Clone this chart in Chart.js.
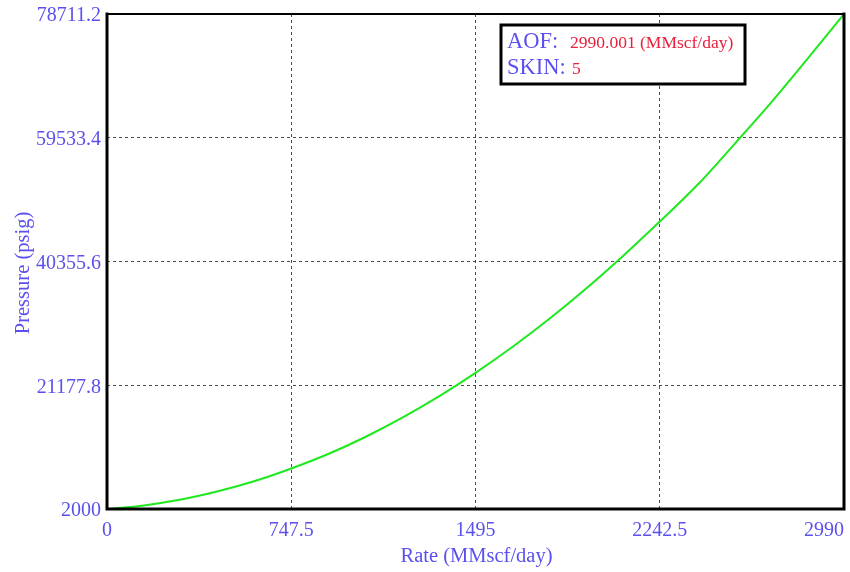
<!DOCTYPE html>
<html>
<head>
<meta charset="utf-8">
<script src="https://cdn.jsdelivr.net/npm/chart.js@4/dist/chart.umd.min.js"></script>
<style>
  html, body { margin: 0; padding: 0; background: #ffffff; }
  #wrap { width: 850px; height: 572px; }
</style>
</head>
<body>
<div id="wrap"><canvas id="ipr"></canvas></div>
<script>
// Deliverability curve: flowing pressure vs gas rate
const rates = [0, 150, 300, 450, 600, 747.5, 900, 1050, 1200, 1350, 1495, 1650, 1800, 1950, 2100, 2242.5, 2400, 2550, 2700, 2850, 2990];
const pressures = [2000, 2560, 3460, 4740, 6340, 8280, 10560, 13200, 16190, 19530, 23090, 27250, 31630, 36360, 41440, 46540, 52400, 58750, 65250, 72150, 78711.2];

const rateTicks = [0, 747.5, 1495, 2242.5, 2990];
const pressureTicks = [2000, 21177.8, 40355.6, 59533.4, 78711.2];

const infoLabels = ['AOF:', 'SKIN:'];
const infoValues = ['2990.001 (MMscf/day)', '5'];

const xTitle = 'Rate (MMscf/day)';
const yTitle = 'Pressure (psig)';

const BLUE = '#5b50ee';
const RED = '#e8203c';
const GREEN = '#1fe81f';
const SERIF = '"Liberation Serif", "Times New Roman", serif';

const points = rates.map((r, i) => ({ x: r, y: pressures[i] }));

// Tick labels, axis titles, frame and info box
const decorations = {
  id: 'decorations',
  afterDraw(chart) {
    const ctx = chart.ctx;
    const area = chart.chartArea;
    const xs = chart.scales.x;
    const ys = chart.scales.y;
    ctx.save();

    // frame
    ctx.strokeStyle = '#000000';
    ctx.lineCap = 'square';
    ctx.lineWidth = 2;
    ctx.beginPath();
    ctx.moveTo(area.left, area.top);
    ctx.lineTo(area.right, area.top);
    ctx.stroke();
    ctx.lineWidth = 3;
    ctx.beginPath();
    ctx.moveTo(area.left, area.top);
    ctx.lineTo(area.left, area.bottom);
    ctx.lineTo(area.right, area.bottom);
    ctx.lineTo(area.right, area.top);
    ctx.stroke();

    // y tick labels
    ctx.fillStyle = BLUE;
    ctx.font = '20px ' + SERIF;
    ctx.textAlign = 'right';
    ctx.textBaseline = 'middle';
    pressureTicks.forEach(v => {
      ctx.fillText(String(v), area.left - 6, ys.getPixelForValue(v) + 2);
    });

    // x tick labels (last one kept inside the frame)
    rateTicks.forEach((v, i) => {
      const px = xs.getPixelForValue(v);
      ctx.textAlign = (i === rateTicks.length - 1) ? 'right' : 'center';
      ctx.fillText(String(v), px, area.bottom + 22);
    });

    // axis titles
    ctx.font = '20.5px ' + SERIF;
    ctx.textAlign = 'center';
    ctx.fillText(xTitle, (area.left + area.right) / 2 + 1, area.bottom + 48);
    ctx.save();
    ctx.translate(24, 273);
    ctx.rotate(-Math.PI / 2);
    ctx.fillText(yTitle, 0, 0);
    ctx.restore();

    // info box
    const bx = 501, by = 25, bw = 244, bh = 59;
    ctx.fillStyle = '#ffffff';
    ctx.fillRect(bx, by, bw, bh);
    ctx.strokeStyle = '#000000';
    ctx.lineWidth = 3;
    ctx.strokeRect(bx, by, bw, bh);

    ctx.textAlign = 'left';
    ctx.textBaseline = 'alphabetic';
    ctx.font = '22.5px ' + SERIF;
    ctx.fillStyle = BLUE;
    ctx.fillText(infoLabels[0], 507, 48);
    ctx.fillText(infoLabels[1], 507, 74);
    ctx.font = '17.5px ' + SERIF;
    ctx.fillStyle = RED;
    ctx.fillText(infoValues[0], 570, 48);
    ctx.fillText(infoValues[1], 572, 74);

    ctx.restore();
  }
};

new Chart(document.getElementById('ipr'), {
  type: 'line',
  data: {
    datasets: [{
      data: points,
      borderColor: GREEN,
      borderWidth: 2,
      pointRadius: 0,
      fill: false,
      cubicInterpolationMode: 'monotone'
    }]
  },
  options: {
    responsive: true,
    maintainAspectRatio: false,
    animation: false,
    events: [],
    layout: { padding: { left: 107, right: 6, top: 14, bottom: 63 } },
    plugins: { legend: { display: false }, tooltip: { enabled: false } },
    scales: {
      x: {
        type: 'linear',
        min: rateTicks[0],
        max: rateTicks[rateTicks.length - 1],
        afterBuildTicks: s => { s.ticks = rateTicks.map(v => ({ value: v })); },
        afterFit: s => { s.height = 0; },
        ticks: { display: false },
        grid: { color: '#4a4a4a', lineWidth: 1, drawTicks: false },
        border: { display: false, dash: [3, 3] }
      },
      y: {
        type: 'linear',
        min: pressureTicks[0],
        max: pressureTicks[pressureTicks.length - 1],
        afterBuildTicks: s => { s.ticks = pressureTicks.map(v => ({ value: v })); },
        afterFit: s => { s.width = 0; },
        ticks: { display: false },
        grid: { color: '#4a4a4a', lineWidth: 1, drawTicks: false },
        border: { display: false, dash: [3, 3] }
      }
    }
  },
  plugins: [decorations]
});
</script>
</body>
</html>
